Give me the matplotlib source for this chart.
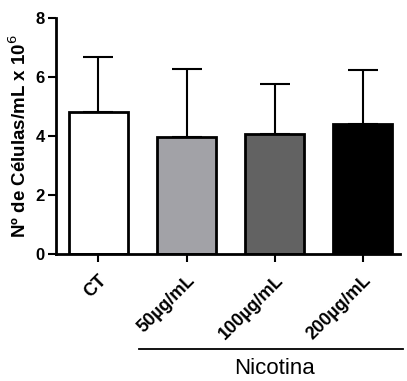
import matplotlib
matplotlib.use("Agg")
import matplotlib.pyplot as plt
import numpy as np

plt.rcParams['font.family'] = ['Liberation Sans', 'DejaVu Sans']

grupos = ["CT", "50µg/mL", "100µg/mL", "200µg/mL"]
medias = [4.80, 3.98, 4.07, 4.40]
desvios = [1.88, 2.29, 1.69, 1.83]
cores = ["#ffffff", "#a2a2a7", "#626262", "#000000"]

fig = plt.figure(figsize=(4.07, 3.81), dpi=100)
ax = fig.add_axes([0.1376, 0.333, 0.845, 0.62])

x = np.arange(len(grupos))
ax.bar(x, medias, width=0.67, color=cores, edgecolor="black", linewidth=2, zorder=2)
# somente a barra de erro superior
ax.errorbar(x, medias, yerr=[np.zeros(len(desvios)), desvios], fmt="none",
            ecolor="black", elinewidth=1.5, capsize=11, capthick=1.5, zorder=1)

ax.set_xlim(-0.48, 3.42)
ax.set_ylim(0, 8)
ax.set_yticks([0, 2, 4, 6, 8])
ax.set_xticks(x)
ax.set_xticklabels(grupos, rotation=45, ha="right", rotation_mode="anchor",
                   fontweight="bold", fontsize=13)
for lbl in ax.get_yticklabels():
    lbl.set_fontweight("bold")
    lbl.set_fontsize(12)

ax.spines["top"].set_visible(False)
ax.spines["right"].set_visible(False)
ax.spines["left"].set_linewidth(2)
ax.spines["bottom"].set_linewidth(2)
ax.tick_params(width=1.5, length=6, pad=2)
ax.tick_params(axis="x", pad=7)

ax.set_ylabel("Nº de Células/mL x 10$^6$", fontweight="bold", fontsize=13.5, labelpad=4)

# linha do grupo Nicotina
ax.plot([0.46, 3.45], [-0.40, -0.40], color="black", linewidth=1.3,
        transform=ax.get_xaxis_transform(), clip_on=False)
ax.text(2.0, -0.485, "Nicotina", transform=ax.get_xaxis_transform(),
        ha="center", va="center", fontsize=16)

fig.savefig("out.png", dpi=100)
